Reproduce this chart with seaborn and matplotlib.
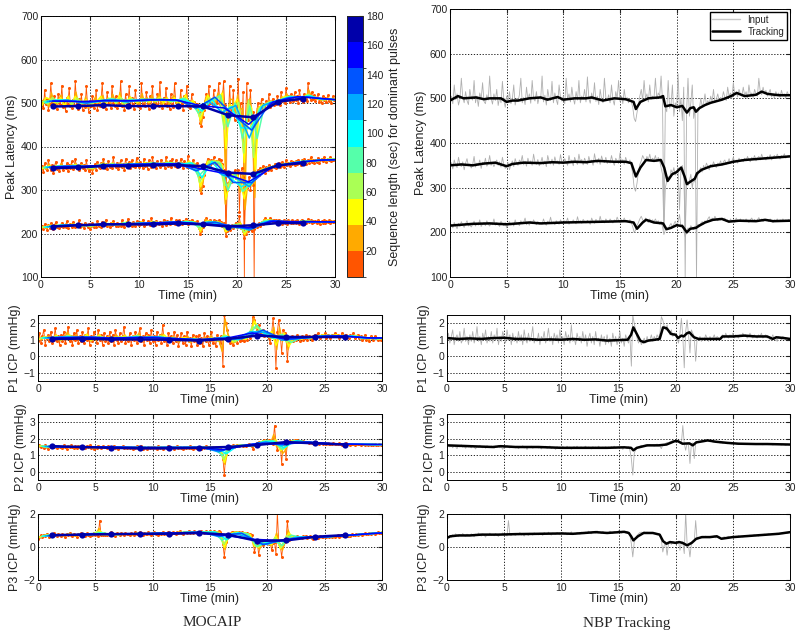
import numpy as np
import pandas as pd
import matplotlib
matplotlib.use('Agg')
import matplotlib as mpl
import matplotlib.pyplot as plt
from matplotlib.colors import ListedColormap, BoundaryNorm
from matplotlib.lines import Line2D
import seaborn as sns

sns.set_style('white')
plt.rcParams['font.family'] = ['Liberation Sans', 'DejaVu Sans']

# time grid of the raw pulse features (min), one row below = 2 min
time = np.arange(0, 30.001, 0.125)

lat_p3_raw = [492, 505, 488, 530, 497, 510, 485, 498, 545, 502, 490, 515, 495, 486, 520, 500,
              496, 540, 490, 505, 482, 512, 498, 535, 493, 488, 508, 496, 550, 500, 487, 510,
              495, 520, 484, 502, 490, 538, 496, 480, 505, 492, 515, 488, 498, 530, 485, 500,
              493, 508, 545, 490, 502, 486, 525, 497, 510, 489, 540, 500, 494, 515, 488, 503,
              498, 550, 492, 507, 485, 520, 500, 495, 538, 490, 512, 497, 486, 530, 502, 494,
              505, 488, 545, 498, 510, 492, 525, 500, 487, 515, 496, 540, 490, 505, 498, 520,
              492, 548, 500, 489, 512, 497, 535, 493, 505, 486, 520, 498, 490, 545, 502, 495,
              508, 490, 530, 497, 485, 515, 500, 540, 493, 505, 488, 520, 496, 502, 490, 498,
              492, 480, 455, 448, 468, 485, 505, 520, 495, 540, 500, 510, 492, 530, 498, 505,
              500, 545, 498, 512, 505, 550, 495, 210, 480, 470, 540, 478, 485, 530, 460, 490,
              480, 555, 470, 500, 450, 525, 95, 470, 545, 460, 490, 530, 455, 480, 95, 470,
              475, 500, 482, 490, 510, 485, 495, 488, 505, 492, 520, 490, 498, 510, 495, 502,
              498, 515, 502, 495, 525, 505, 512, 500, 535, 508, 515, 503, 520, 510, 505, 525,
              506, 515, 500, 530, 508, 512, 502, 520, 510, 505, 545, 515, 508, 525, 510, 518,
              505, 512, 520, 503, 510, 500, 515, 507, 512, 502, 518, 505, 510, 500, 515, 508,
              506]
lat_p2_raw = [348, 356, 342, 362, 350, 345, 368, 352, 347, 358, 340, 355, 365, 349, 353, 344,
              352, 370, 346, 355, 350, 362, 343, 357, 351, 366, 348, 354, 372, 350, 356, 347,
              355, 362, 350, 358, 346, 368, 352, 343, 349, 356, 340, 352, 360, 347, 365, 354,
              350, 362, 356, 372, 351, 359, 348, 366, 354, 360, 350, 375, 357, 352, 363, 349,
              356, 368, 352, 360, 347, 372, 358, 353, 364, 350, 369, 356, 360, 352, 374, 357,
              353, 365, 358, 350, 372, 356, 362, 349, 368, 357, 352, 375, 358, 363, 351, 366,
              358, 352, 370, 357, 362, 350, 376, 359, 355, 366, 352, 371, 360, 356, 368, 354,
              361, 355, 372, 358, 350, 366, 360, 354, 378, 357, 363, 352, 368, 358, 355, 362,
              350, 330, 300, 292, 310, 335, 352, 360, 372, 365, 358, 370, 362, 375, 360, 366,
              362, 372, 358, 368, 360, 345, 330, 205, 300, 315, 325, 318, 340, 332, 345, 328,
              336, 345, 250, 340, 350, 330, 200, 310, 305, 315, 330, 300, 320, 312, 335, 328,
              338, 345, 335, 350, 342, 355, 348, 340, 352, 346, 358, 350, 345, 355, 352, 360,
              350, 358, 362, 352, 356, 365, 354, 360, 368, 357, 362, 355, 366, 360, 364, 358,
              366, 360, 370, 362, 358, 368, 364, 372, 360, 366, 370, 362, 375, 365, 368, 362,
              370, 365, 374, 362, 368, 372, 366, 375, 368, 364, 372, 368, 376, 366, 370, 372,
              370]
lat_p1_raw = [212, 218, 210, 222, 215, 208, 220, 213, 224, 216, 211, 219, 226, 214, 217, 212,
              218, 225, 214, 220, 216, 228, 213, 219, 222, 215, 226, 218, 214, 221, 217, 230,
              216, 222, 218, 213, 225, 219, 215, 222, 210, 218, 224, 216, 220, 214, 228, 218,
              220, 215, 226, 219, 222, 232, 217, 221, 216, 225, 219, 228, 221, 217, 224, 218,
              222, 218, 230, 220, 216, 225, 221, 234, 219, 223, 217, 226, 221, 218, 228, 222,
              219, 226, 222, 232, 218, 224, 221, 228, 223, 219, 235, 222, 226, 220, 229, 224,
              221, 227, 223, 218, 232, 224, 220, 229, 225, 222, 236, 223, 227, 221, 230, 225,
              222, 230, 225, 221, 228, 224, 234, 226, 222, 229, 225, 232, 223, 227, 224, 228,
              222, 212, 200, 205, 215, 222, 230, 236, 228, 224, 232, 226, 222, 230, 225, 228,
              224, 230, 222, 226, 218, 225, 212, 195, 205, 210, 208, 215, 220, 212, 218, 225,
              216, 222, 240, 212, 218, 205, 190, 200, 210, 205, 215, 210, 206, 214, 210, 218,
              215, 220, 224, 218, 226, 222, 230, 235, 226, 232, 228, 236, 230, 226, 232, 228,
              230, 226, 232, 224, 228, 222, 230, 225, 228, 222, 232, 226, 224, 230, 225, 228,
              224, 230, 226, 222, 228, 232, 225, 229, 224, 228, 233, 226, 230, 224, 228, 226,
              228, 224, 230, 226, 222, 228, 225, 230, 224, 228, 226, 230, 224, 228, 226, 229,
              226]

# raw ICP amplitudes (mmHg)
icp_p1_raw = [0.9, 1.4, 0.8, 1.2, 1.6, 0.7, 1.1, 1.3, 0.9, 1.5, 0.8, 1.0, 1.7, 0.9, 1.2, 0.7,
              1.3, 0.9, 1.5, 0.8, 1.1, 1.8, 0.9, 1.2, 0.7, 1.4, 1.0, 1.6, 0.8, 1.2, 0.9, 1.5,
              0.8, 1.3, 1.0, 1.7, 0.7, 1.2, 0.9, 1.5, 1.1, 0.8, 1.6, 1.0, 1.3, 0.7, 1.4, 0.9,
              1.2, 0.8, 1.5, 0.9, 1.3, 0.7, 1.6, 1.0, 0.8, 1.4, 0.9, 1.2, 1.8, 0.8, 1.1, 0.9,
              1.4, 0.7, 1.2, 1.0, 1.5, 0.8, 1.1, 1.7, 0.9, 1.2, 0.7, 1.4, 1.0, 1.3, 0.8, 1.6,
              0.9, 1.2, 0.7, 1.5, 1.0, 1.3, 0.8, 1.9, 0.9, 1.1, 0.7, 1.4, 1.0, 1.2, 0.8, 1.5,
              0.9, 1.3, 0.6, 1.1, 1.4, 0.8, 1.2, 0.7, 1.5, 0.9, 1.1, 0.6, 1.3, 0.9, 1.2, 0.7,
              1.3, 0.8, 1.1, 0.6, 1.4, 0.9, 1.2, 0.7, 1.0, 1.5, 0.8, 1.1, 0.6, 1.3, 1.0, 0.8,
              1.2, -0.6, 2.5, 2.0, 1.6, 1.1, 0.8, 1.0, 0.7, 0.9, 1.1, 0.8, 1.2, 0.9, 1.0, 1.3,
              0.9, 1.2, 1.0, 1.3, 1.1, 1.4, 2.4, 2.2, 1.8, 1.6, 1.9, 1.5, 1.3, 1.6, 1.2, 1.4,
              1.3, 1.1, 0.8, 1.4, 2.3, 1.2, -0.7, 1.5, 2.2, 1.3, 0.2, 1.6, 1.4, 1.2, -0.3, 1.1,
              1.0, 1.2, 0.9, 1.1, 1.0, 1.3, 1.1, 0.9, 1.2, 1.0, 1.1, 1.3, 1.0, 1.2, 1.1, 1.0,
              1.2, 1.3, 1.1, 1.4, 1.2, 1.1, 1.3, 1.2, 1.4, 1.1, 1.3, 1.2, 1.1, 1.3, 1.2, 1.4,
              1.2, 1.3, 1.1, 1.2, 1.4, 1.2, 1.1, 1.3, 1.2, 1.1, 1.3, 1.2, 1.4, 1.1, 1.2, 1.3,
              1.1, 1.2, 1.0, 1.1, 1.3, 1.0, 1.1, 0.9, 1.2, 1.1, 1.0, 1.2, 1.1, 1.0, 1.1, 1.0,
              1.1]
icp_p2_raw = [1.55, 1.62, 1.5, 1.58, 1.45, 1.6, 1.52, 1.4, 1.57, 1.5, 1.63, 1.48, 1.55, 1.42, 1.58, 1.5,
              1.52, 1.45, 1.6, 1.5, 1.38, 1.55, 1.48, 1.6, 1.5, 1.45, 1.55, 1.42, 1.58, 1.5, 1.47, 1.56,
              1.5, 1.42, 1.55, 1.48, 1.6, 1.45, 1.5, 1.36, 1.52, 1.46, 1.58, 1.5, 1.44, 1.55, 1.48, 1.52,
              1.45, 1.55, 1.4, 1.5, 1.46, 1.58, 1.44, 1.5, 1.35, 1.52, 1.47, 1.55, 1.42, 1.5, 1.46, 1.53,
              1.44, 1.5, 1.38, 1.52, 1.46, 1.55, 1.42, 1.48, 1.56, 1.4, 1.5, 1.45, 1.35, 1.52, 1.46, 1.5,
              1.42, 1.53, 1.46, 1.4, 1.55, 1.45, 1.5, 1.36, 1.48, 1.52, 1.44, 1.55, 1.42, 1.48, 1.5, 1.4,
              1.48, 1.55, 1.42, 1.5, 1.46, 1.38, 1.52, 1.45, 1.5, 1.42, 1.55, 1.46, 1.4, 1.5, 1.45, 1.52,
              1.45, 1.5, 1.4, 1.52, 1.46, 1.55, 1.42, 1.48, 1.5, 1.44, 1.52, 1.35, 1.5, 1.46, 1.4, 1.52,
              1.3, 0.8, -0.2, 1.1, 1.35, 1.4, 1.5, 1.55, 1.6, 1.52, 1.58, 1.62, 1.55, 1.6, 1.65, 1.58,
              1.6, 1.55, 1.62, 1.68, 1.6, 1.55, 1.4, 1.65, 1.6, 1.72, 1.78, 1.75, 1.82, 1.85, 1.9, 1.86,
              1.88, 1.92, 1.8, 1.75, 1.7, 2.8, 1.72, 1.3, 1.75, 1.6, 0.5, 1.7, 1.75, 0.8, 1.72, 1.8,
              1.85, 1.82, 1.88, 1.9, 1.86, 1.92, 1.88, 1.85, 1.82, 1.86, 1.8, 1.78, 1.82, 1.76, 1.8, 1.74,
              1.76, 1.72, 1.78, 1.74, 1.7, 1.75, 1.72, 1.68, 1.74, 1.7, 1.72, 1.66, 1.7, 1.68, 1.72, 1.66,
              1.7, 1.66, 1.72, 1.68, 1.64, 1.7, 1.67, 1.72, 1.66, 1.69, 1.65, 1.7, 1.67, 1.63, 1.69, 1.66,
              1.68, 1.64, 1.7, 1.66, 1.62, 1.68, 1.65, 1.7, 1.64, 1.66, 1.62, 1.68, 1.65, 1.6, 1.67, 1.64,
              1.65]
icp_p3_raw = [0.5, 0.62, 0.7, 0.58, 0.75, 0.66, 0.8, 0.7, 0.62, 0.76, 0.68, 0.82, 0.7, 0.65, 0.78, 0.72,
              0.68, 0.8, 0.72, 0.62, 0.78, 0.7, 0.85, 0.74, 0.66, 0.8, 0.72, 0.6, 0.78, 0.73, 0.84, 0.7,
              0.76, 0.68, 0.82, 0.72, 0.64, 0.78, 0.74, 0.86, 0.7, 0.78, 0.66, 1.6, 0.74, 0.7, 0.82, 0.75,
              0.7, 0.8, 0.74, 0.88, 0.72, 0.78, 0.66, 0.82, 0.76, 0.7, 0.84, 0.78, 0.72, 0.86, 0.76, 0.8,
              0.74, 0.84, 0.78, 0.7, 0.88, 0.8, 0.76, 0.9, 0.78, 0.72, 0.85, 0.8, 0.76, 0.88, 0.8, 0.74,
              0.82, 0.9, 0.78, 0.86, 0.74, 0.84, 0.8, 0.92, 0.78, 0.84, 0.76, 0.88, 0.82, 0.78, 0.9, 0.84,
              0.8, 0.9, 0.84, 0.96, 0.86, 0.8, 0.92, 0.88, 0.84, 0.98, 0.86, 0.9, 0.82, 0.94, 0.88, 0.84,
              0.9, 0.84, 0.96, 0.88, 0.82, 0.94, 0.9, 0.86, 1.0, 0.9, 0.84, 0.96, 0.9, 0.86, 0.95, 0.88,
              0.7, 0.2, -0.6, 0.3, 0.55, 0.7, 0.8, 0.88, 0.9, 0.84, 0.92, 0.86, 0.9, 0.84, 0.88, 0.82,
              0.86, 0.8, 0.84, 0.76, 0.8, 0.7, 0.4, -0.3, 0.1, 0.25, -0.5, 0.2, 0.3, 0.15, 0.35, 0.25,
              0.3, 0.2, 0.35, -0.2, 0.25, 0.3, -0.4, 2.1, 0.2, 0.1, -0.6, 0.2, 0.3, 0.35, 1.6, 0.45,
              0.5, 0.58, 0.62, 0.55, 0.6, 0.66, 0.58, 0.62, 0.56, 0.64, 0.6, 0.68, 0.55, 0.6, 0.65, 0.52,
              0.5, 0.58, 0.62, 0.55, 0.6, 0.65, 0.58, 0.62, 0.66, 0.6, 0.64, 0.58, 0.68, 0.62, 0.66, 0.6,
              0.65, 0.7, 0.62, 0.68, 0.72, 0.66, 0.7, 0.74, 0.68, 0.72, 0.66, 0.76, 0.7, 0.74, 0.78, 0.72,
              0.76, 0.8, 0.74, 0.78, 0.82, 0.76, 0.8, 0.84, 0.78, 0.82, 0.86, 0.8, 0.84, 0.88, 0.82, 0.86,
              0.9]

# NBP tracking output (black line), knots
trk_lat_p3_t = [0, 0.7, 1.2, 2.3, 3, 3.5, 4.5, 5, 5.5, 6, 7, 8, 8.6, 9.5, 10, 11, 12, 12.5, 13.5, 14.5,
                15.5, 16.2, 16.4, 16.8, 17.5, 18.5, 18.8, 19, 19.5, 20, 20.5, 20.9, 21.2, 21.5, 21.7, 22,
                22.5, 23, 24, 24.8, 25.3, 26, 27, 27.5, 28, 29, 30]
trk_lat_p3_v = [495, 505, 500, 502, 498, 500, 500, 492, 495, 495, 500, 502, 497, 503, 497, 500, 500, 502, 495, 500,
                498, 492, 476, 492, 500, 502, 505, 482, 485, 480, 483, 468, 478, 480, 470, 478,
                485, 490, 497, 505, 512, 505, 508, 515, 510, 507, 507]
trk_lat_p2_t = [0, 1, 2, 3, 4, 5, 5.5, 6.5, 8, 9, 10, 11, 12, 13, 14.5, 15.5, 16, 16.4, 16.8, 17.3,
                18, 18.6, 18.9, 19.2, 19.6, 20, 20.4, 20.7, 20.9, 21.3, 21.6, 21.8, 22.2, 23, 24, 25,
                26, 27, 28, 29, 30]
trk_lat_p2_v = [350, 352, 350, 354, 356, 348, 353, 356, 355, 357, 356, 358, 357, 360, 358, 358, 355, 325, 345, 362,
                360, 362, 345, 315, 330, 335, 345, 325, 308, 315, 320, 332, 340, 348, 352, 358,
                362, 364, 366, 368, 370]
trk_lat_p1_t = [0, 1, 2, 3.5, 5, 6, 7, 8, 10, 12, 14, 15.5, 16.2, 16.5, 17, 17.3, 18, 18.8, 19.1, 19.5,
                20, 20.5, 20.9, 21.2, 21.7, 22, 22.5, 23.2, 24, 24.6, 25.5, 27, 27.8, 28.5, 30]
trk_lat_p1_v = [215, 217, 219, 220, 218, 220, 222, 220, 222, 223, 224, 225, 222, 208, 222, 228, 222, 220, 207, 210,
                216, 214, 200, 208, 210, 215, 222, 228, 230, 224, 226, 225, 228, 225, 226]
trk_icp_p1_t = [0, 1, 2, 3, 4, 5, 6, 7, 8, 9, 10, 11, 12, 13, 14, 15, 15.8, 16.1, 16.3, 16.6,
                16.9, 17.2, 17.6, 18.2, 18.6, 18.9, 19.2, 19.6, 20, 20.2, 20.5, 20.7, 21, 21.2, 21.6, 22,
                23, 23.9, 24.1, 25, 26, 27, 28, 28.5, 28.8, 29.5, 30]
trk_icp_p1_v = [1.1, 1.05, 1.08, 1.05, 1.1, 1.12, 1.05, 1.05, 1.0, 1.02, 1.0, 1.05, 1.0, 1.02, 0.95, 0.98,
                1.0, 1.3, 1.75, 1.35, 0.95, 0.85, 0.95, 1.0, 1.05, 1.75, 1.7, 1.35, 1.3, 1.1,
                1.25, 1.2, 1.4, 1.45, 1.15, 1.05, 1.05, 1.05, 1.2, 1.2, 1.25, 1.2, 1.2, 1.05, 1.15, 1.1, 1.05]
trk_icp_p2_t = [0, 2, 4, 4.7, 6, 8, 10, 12, 14, 15.5, 16.1, 16.3, 16.6, 17.5, 18.5, 19.2, 19.9, 20.2, 20.6, 21.2,
                21.5, 21.8, 22.4, 22.8, 23.5, 24.5, 25.5, 27, 28, 30]
trk_icp_p2_v = [1.6, 1.55, 1.5, 1.55, 1.5, 1.5, 1.45, 1.45, 1.45, 1.48, 1.45, 1.3, 1.45, 1.6, 1.6, 1.65, 1.85, 1.85,
                1.7, 1.72, 1.6, 1.78, 1.85, 1.9, 1.82, 1.75, 1.7, 1.68, 1.68, 1.65]
trk_icp_p3_t = [0, 0.3, 1, 2, 3, 4.5, 6, 8, 10, 11, 12, 13, 14, 15.5, 15.9, 16.1, 16.3, 16.7, 17.2, 18,
                18.6, 18.9, 19.2, 19.5, 20, 20.3, 20.6, 21, 21.4, 21.8, 22.3, 23, 23.6, 24, 25, 26,
                27, 28, 29, 30]
trk_icp_p3_v = [0.55, 0.65, 0.7, 0.7, 0.75, 0.75, 0.78, 0.8, 0.82, 0.8, 0.85, 0.9, 0.85, 0.92, 0.85, 0.65, 0.4,
                0.65, 0.85, 0.85, 0.75, 0.35, 0.2, 0.3, 0.25, 0.3, 0.25, 0.1, 0.25, 0.5, 0.6, 0.6, 0.65,
                0.5, 0.6, 0.65, 0.7, 0.75, 0.8, 0.9]

# MOCAIP dominant-pulse segments (dark blue line with dots)
seg_t = [1.25, 3.8, 6.35, 8.9, 11.45, 14.0, 16.55, 19.1, 21.65, 24.2, 26.75]
seg_lat_p3 = [492, 493, 495, 493, 493, 493, 492, 472, 467, 503, 510]
seg_lat_p2 = [350, 352, 355, 355, 357, 357, 355, 340, 337, 357, 362]
seg_lat_p1 = [216, 219, 221, 221, 221, 223, 221, 216, 219, 224, 224]
seg_icp_p1 = [1.04, 1.07, 1.02, 1.02, 1.0, 0.95, 1.05, 1.25, 1.17, 1.17, 1.16]
seg_icp_p2 = [1.55, 1.5, 1.45, 1.42, 1.42, 1.45, 1.5, 1.62, 1.8, 1.72, 1.65]
seg_icp_p3 = [0.72, 0.75, 0.78, 0.8, 0.8, 0.85, 0.75, 0.37, 0.4, 0.62, 0.72]

# sequence lengths (in raw samples) of the intermediate colour layers
seq_windows = [2, 3, 4, 6, 8, 11, 15, 20]

# flipped MATLAB jet(10): short sequences red, long ones navy
jet10 = [(1, 1/3, 0), (1, 2/3, 0), (1, 1, 0), (2/3, 1, 1/3), (1/3, 1, 2/3),
         (0, 1, 1), (0, 2/3, 1), (0, 1/3, 1), (0, 0, 1), (0, 0, 2/3)]
cbar_ticks = [20, 40, 60, 80, 100, 120, 140, 160, 180]


def style(ax, ylim, yticks, ylabel):
    ax.set_xlim(0, 30)
    ax.set_ylim(ylim)
    ax.set_xticks(range(0, 31, 5))
    ax.set_yticks(yticks)
    ax.grid(True, linestyle=(0, (1.5, 2)), color='k', lw=0.6)
    ax.tick_params(direction='in', top=True, right=True, labelsize=7.5,
                   length=3, pad=2, colors='#222222')
    for s in ax.spines.values():
        s.set_color('k')
        s.set_linewidth(0.7)
    ax.set_xlabel('Time (min)', fontsize=9, labelpad=0, color='#222222')
    ax.set_ylabel(ylabel, fontsize=9, labelpad=2, color='#222222')


def mocaip(ax, signals):
    idx = np.arange(len(time))
    for raw, seg in signals:
        raw_df = pd.DataFrame({'t': time, 'v': raw})
        sns.lineplot(data=raw_df, x='t', y='v', color=jet10[0], lw=0.6, marker='o',
                     markersize=2.2, markeredgewidth=0, ax=ax)
        # one averaged value per sequence, seaborn does the averaging
        parts = []
        for j, w in enumerate(seq_windows):
            blk = (idx // w) * w
            tb = time[blk] + (w - 1) * 0.125 / 2
            parts.append(pd.DataFrame({'t': tb, 'v': raw, 'seq': j}))
        layers = pd.concat(parts, ignore_index=True)
        sns.lineplot(data=layers, x='t', y='v', hue='seq', estimator='mean', errorbar=None,
                     palette=jet10[1:9], lw=1.1, legend=False, ax=ax)
        sns.lineplot(x=seg_t, y=seg, color=jet10[9], lw=1.8, marker='o', markersize=4.5,
                     markeredgewidth=0, ax=ax)


def nbp(ax, signals):
    for raw, tt, tv in signals:
        sns.lineplot(x=time, y=raw, color='#b0b0b0', lw=0.6, ax=ax)
        sns.lineplot(x=tt, y=tv, color='k', lw=1.8, ax=ax)


fig = plt.figure(figsize=(8, 6.37), dpi=100)
W, H = 800, 637


def box(l, t, r, b):
    return [l / W, 1 - b / H, (r - l) / W, (b - t) / H]


ax_l0 = fig.add_axes(box(41, 16, 335, 277))
cax = fig.add_axes(box(347, 16, 363, 277))
ax_r0 = fig.add_axes(box(450, 9, 790, 277))
rows_y = [(315, 381), (414, 480), (514, 580)]
ax_l = [fig.add_axes(box(38, t, 382, b)) for t, b in rows_y]
ax_r = [fig.add_axes(box(447, t, 790, b)) for t, b in rows_y]

mocaip(ax_l0, [(lat_p3_raw, seg_lat_p3), (lat_p2_raw, seg_lat_p2), (lat_p1_raw, seg_lat_p1)])
nbp(ax_r0, [(lat_p3_raw, trk_lat_p3_t, trk_lat_p3_v),
            (lat_p2_raw, trk_lat_p2_t, trk_lat_p2_v),
            (lat_p1_raw, trk_lat_p1_t, trk_lat_p1_v)])
for ax in (ax_l0, ax_r0):
    style(ax, (100, 700), range(100, 701, 100), 'Peak Latency (ms)')

icp = [(icp_p1_raw, seg_icp_p1, trk_icp_p1_t, trk_icp_p1_v, (-1.5, 2.5), [-1, 0, 1, 2], 'P1 ICP (mmHg)'),
       (icp_p2_raw, seg_icp_p2, trk_icp_p2_t, trk_icp_p2_v, (-0.5, 3.5), [0, 1, 2, 3], 'P2 ICP (mmHg)'),
       (icp_p3_raw, seg_icp_p3, trk_icp_p3_t, trk_icp_p3_v, (-2, 2), [-2, 0, 2], 'P3 ICP (mmHg)')]
for i, (raw, seg, tt, tv, yl, yt, lab) in enumerate(icp):
    mocaip(ax_l[i], [(raw, seg)])
    nbp(ax_r[i], [(raw, tt, tv)])
    style(ax_l[i], yl, yt, lab)
    style(ax_r[i], yl, yt, lab)

ax_r0.legend(handles=[Line2D([], [], color='#c8c8c8', lw=1), Line2D([], [], color='k', lw=1.8)],
             labels=['Input', 'Tracking'], loc='upper right', fontsize=7, fancybox=False,
             edgecolor='k', framealpha=1, borderaxespad=0.3, handlelength=2.8,
             borderpad=0.3, labelspacing=0.2)

cmap = ListedColormap(jet10)
norm = BoundaryNorm(np.linspace(2, 180, 11), cmap.N)
cb = mpl.colorbar.ColorbarBase(cax, cmap=cmap, norm=norm, ticks=cbar_ticks)
cb.outline.set_linewidth(0.7)
cax.tick_params(direction='in', labelsize=7.5, length=3, pad=2, colors='#222222')
cb.set_label('Sequence length (sec) for dominant pulses', fontsize=9, color='#222222')

fig.text(212 / W, 1 - 623 / H, 'MOCAIP', ha='center', va='center',
         family='Liberation Serif', fontsize=11)
fig.text(627 / W, 1 - 623 / H, 'NBP Tracking', ha='center', va='center',
         family='Liberation Serif', fontsize=11)

fig.savefig('out.png', dpi=100)
